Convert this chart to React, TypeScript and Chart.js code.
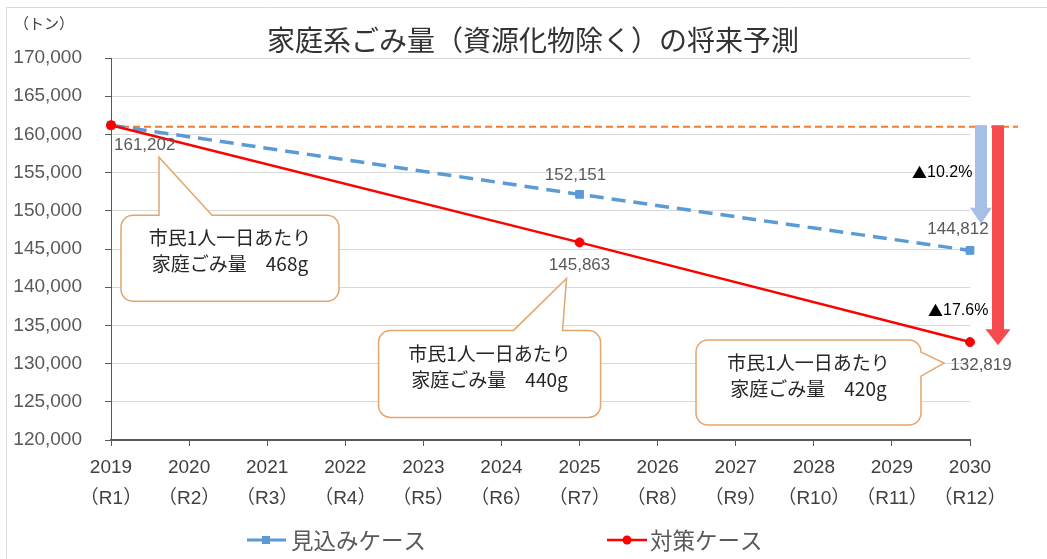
import React, { useEffect, useRef } from "react";
import { Chart, registerables } from "chart.js";

Chart.register(...registerables);

// ---------- data ----------
const years = ["2019", "2020", "2021", "2022", "2023", "2024", "2025", "2026", "2027", "2028", "2029", "2030"];
const reiwaLabels = ["（R1）", "（R2）", "（R3）", "（R4）", "（R5）", "（R6）", "（R7）", "（R8）", "（R9）", "（R10）", "（R11）", "（R12）"];
const forecastCase: (number | null)[] = [161202, null, null, null, null, null, 152151, null, null, null, null, 144812];
const measureCase: (number | null)[] = [161202, null, null, null, null, null, 145863, null, null, null, null, 132819];
const seriesNames = ["見込みケース", "対策ケース"];
const baselineValue = 161202;
const reductionLabels = ["10.2%", "17.6%"];
const reductionLabelValues = [155000, 137000];
const arrowTipValues = [148300, 132400];
const calloutTexts = [
  ["市民1人一日あたり", "家庭ごみ量　468g"],
  ["市民1人一日あたり", "家庭ごみ量　440g"],
  ["市民1人一日あたり", "家庭ごみ量　420g"],
];
const titleText = "家庭系ごみ量（資源化物除く）の将来予測";
const unitText = "（トン）";
const yMin = 120000;
const yMax = 170000;
const yStep = 5000;

// ---------- styles ----------
const CJK = "'Noto Sans CJK JP', sans-serif";
const NUM = "'Liberation Sans', 'Noto Sans CJK JP', sans-serif";
const BLUE = "#5B9BD5";
const RED = "#FF0000";
const ORANGE = "#ED7D31";
const CALLOUT_BORDER = "#E4A56C";

type LabelSpec = { ds: number; idx: number; dx: number; dy: number; align: CanvasTextAlign };
const labelSpecs: LabelSpec[] = [
  { ds: 1, idx: 0, dx: 3, dy: 20, align: "left" },
  { ds: 0, idx: 6, dx: -4, dy: -19, align: "center" },
  { ds: 0, idx: 11, dx: -12, dy: -21, align: "center" },
  { ds: 1, idx: 6, dx: 0, dy: 23, align: "center" },
  { ds: 1, idx: 11, dx: 11, dy: 23, align: "center" },
];

type CalloutSpec = {
  ds: number; idx: number;
  bx: number; by: number; w: number; h: number;
  side: "top" | "right"; a: number; b: number; tx: number; ty: number;
};
const calloutSpecs: CalloutSpec[] = [
  { ds: 1, idx: 0, bx: 10, by: 90, w: 218, h: 86, side: "top", a: 48, b: 101, tx: 48, ty: 32 },
  { ds: 1, idx: 6, bx: -201, by: 88, w: 222, h: 87, side: "top", a: -66, b: -17, tx: -13, ty: 36 },
  { ds: 1, idx: 11, bx: -274, by: -2, w: 225, h: 85, side: "right", a: 10, b: 34, tx: -26, ty: 21 },
];

function fmt(v: number) {
  return v.toLocaleString("en-US");
}

function drawCallout(ctx: CanvasRenderingContext2D, px: number, py: number, s: CalloutSpec, lines: string[]) {
  const x = px + s.bx, y = py + s.by, w = s.w, h = s.h, r = 12;
  ctx.save();
  ctx.beginPath();
  ctx.moveTo(x + r, y);
  if (s.side === "top") {
    ctx.lineTo(px + s.a, y);
    ctx.lineTo(px + s.tx, py + s.ty);
    ctx.lineTo(px + s.b, y);
  }
  ctx.lineTo(x + w - r, y);
  ctx.arcTo(x + w, y, x + w, y + r, r);
  if (s.side === "right") {
    ctx.lineTo(x + w, py + s.a);
    ctx.lineTo(px + s.tx, py + s.ty);
    ctx.lineTo(x + w, py + s.b);
  }
  ctx.lineTo(x + w, y + h - r);
  ctx.arcTo(x + w, y + h, x + w - r, y + h, r);
  ctx.lineTo(x + r, y + h);
  ctx.arcTo(x, y + h, x, y + h - r, r);
  ctx.lineTo(x, y + r);
  ctx.arcTo(x, y, x + r, y, r);
  ctx.closePath();
  ctx.fillStyle = "#ffffff";
  ctx.fill();
  ctx.strokeStyle = CALLOUT_BORDER;
  ctx.lineWidth = 1.5;
  ctx.stroke();
  ctx.fillStyle = "#262626";
  ctx.font = `19px ${CJK}`;
  ctx.textAlign = "center";
  ctx.textBaseline = "middle";
  ctx.fillText(lines[0], x + w / 2, y + 23);
  ctx.fillText(lines[1], x + w / 2, y + 49);
  ctx.restore();
}

function drawArrow(ctx: CanvasRenderingContext2D, cx: number, top: number, tip: number, color: string, shaft: number, head: number, headLen: number) {
  ctx.save();
  ctx.fillStyle = color;
  ctx.beginPath();
  ctx.moveTo(cx - shaft / 2, top);
  ctx.lineTo(cx + shaft / 2, top);
  ctx.lineTo(cx + shaft / 2, tip - headLen);
  ctx.lineTo(cx + head / 2, tip - headLen);
  ctx.lineTo(cx, tip);
  ctx.lineTo(cx - head / 2, tip - headLen);
  ctx.lineTo(cx - shaft / 2, tip - headLen);
  ctx.closePath();
  ctx.fill();
  ctx.restore();
}

function drawReduction(ctx: CanvasRenderingContext2D, text: string, x: number, y: number) {
  ctx.save();
  ctx.fillStyle = "#000000";
  ctx.textAlign = "left";
  ctx.textBaseline = "middle";
  ctx.font = `15px ${CJK}`;
  ctx.fillText("▲", x, y);
  const w = ctx.measureText("▲").width;
  ctx.font = `16px ${NUM}`;
  ctx.fillText(text, x + w, y);
  ctx.restore();
}

const decorPlugin = {
  id: "decor",
  beforeDatasetsDraw(chart: any) {
    const ctx: CanvasRenderingContext2D = chart.ctx;
    const y = chart.scales.y.getPixelForValue(baselineValue) + 1.5;
    ctx.save();
    ctx.strokeStyle = ORANGE;
    ctx.lineWidth = 2;
    ctx.setLineDash([7, 4]);
    ctx.beginPath();
    ctx.moveTo(chart.chartArea.left, y);
    ctx.lineTo(chart.chartArea.right + 48, y);
    ctx.stroke();
    ctx.restore();
  },
  afterDraw(chart: any) {
    const ctx: CanvasRenderingContext2D = chart.ctx;
    const area = chart.chartArea;
    const ys = chart.scales.y;

    // outer border (left/top)
    ctx.save();
    ctx.strokeStyle = "#d9d9d9";
    ctx.lineWidth = 1;
    ctx.beginPath();
    ctx.moveTo(6.5, 600);
    ctx.lineTo(6.5, 7.5);
    ctx.lineTo(1100, 7.5);
    ctx.stroke();
    ctx.restore();

    // title and unit
    ctx.save();
    ctx.fillStyle = "#333333";
    ctx.font = `28px ${CJK}`;
    ctx.textAlign = "center";
    ctx.textBaseline = "middle";
    ctx.fillText(titleText, 533, 40);
    ctx.font = `15px ${CJK}`;
    ctx.fillStyle = "#404040";
    ctx.textAlign = "left";
    ctx.fillText(unitText, 14, 23);
    ctx.restore();

    // arrows
    const top = ys.getPixelForValue(baselineValue);
    drawArrow(ctx, area.right + 11, top, ys.getPixelForValue(arrowTipValues[0]), "#A6BFE5", 12, 22, 16);
    drawArrow(ctx, area.right + 28, top, ys.getPixelForValue(arrowTipValues[1]), "#F74A4F", 12, 25, 16);

    // reduction labels
    drawReduction(ctx, reductionLabels[0], area.right - 58, ys.getPixelForValue(reductionLabelValues[0]));
    drawReduction(ctx, reductionLabels[1], area.right - 42, ys.getPixelForValue(reductionLabelValues[1]));

    // callouts
    calloutSpecs.forEach((s, i) => {
      const pt = chart.getDatasetMeta(s.ds).data[s.idx];
      drawCallout(ctx, pt.x, pt.y, s, calloutTexts[i]);
    });

    // data labels
    ctx.save();
    ctx.fillStyle = "#595959";
    ctx.font = `17px ${NUM}`;
    ctx.textBaseline = "middle";
    labelSpecs.forEach((l) => {
      const pt = chart.getDatasetMeta(l.ds).data[l.idx];
      const v = chart.data.datasets[l.ds].data[l.idx] as number;
      ctx.textAlign = l.align;
      ctx.fillText(fmt(v), pt.x + l.dx, pt.y + l.dy);
    });
    ctx.restore();

    // legend
    ctx.save();
    const ly = 540;
    ctx.lineWidth = 3;
    ctx.strokeStyle = BLUE;
    ctx.beginPath();
    ctx.moveTo(247, ly);
    ctx.lineTo(286, ly);
    ctx.stroke();
    ctx.fillStyle = BLUE;
    ctx.fillRect(262, ly - 4, 8, 8);
    ctx.strokeStyle = RED;
    ctx.lineWidth = 2.5;
    ctx.beginPath();
    ctx.moveTo(607, ly);
    ctx.lineTo(647, ly);
    ctx.stroke();
    ctx.fillStyle = RED;
    ctx.beginPath();
    ctx.arc(627, ly, 4.5, 0, Math.PI * 2);
    ctx.fill();
    ctx.fillStyle = "#595959";
    ctx.font = `22.5px ${CJK}`;
    ctx.textAlign = "left";
    ctx.textBaseline = "middle";
    ctx.fillText(seriesNames[0], 291, ly);
    ctx.fillText(seriesNames[1], 650, ly);
    ctx.restore();
  },
};

export default function App() {
  const ref = useRef<HTMLCanvasElement | null>(null);
  useEffect(() => {
    if (!ref.current) return;
    const chart = new Chart(ref.current, {
      type: "line",
      data: {
        labels: years,
        datasets: [
          {
            label: seriesNames[0],
            data: forecastCase,
            borderColor: BLUE,
            backgroundColor: BLUE,
            borderWidth: 3.5,
            borderDash: [14, 8],
            pointStyle: "rect",
            pointRadius: 5.5,
            pointBorderWidth: 1,
            spanGaps: true,
            order: 2,
          },
          {
            label: seriesNames[1],
            data: measureCase,
            borderColor: RED,
            backgroundColor: RED,
            borderWidth: 2.5,
            pointStyle: "circle",
            pointRadius: 4.5,
            pointBorderWidth: 1,
            spanGaps: true,
            order: 1,
          },
        ],
      },
      options: {
        responsive: false,
        animation: false,
        layout: { padding: { top: 58, right: 77, bottom: 0, left: 0 } },
        plugins: {
          legend: { display: false },
          title: { display: false },
          tooltip: { enabled: false },
        },
        scales: {
          x: {
            type: "category",
            offset: false,
            grid: { drawOnChartArea: false, drawTicks: true, tickLength: 6, tickColor: "#595959", tickWidth: 1 },
            border: { color: "#595959", width: 2 },
            ticks: {
              color: "#404040",
              font: { size: 19, family: NUM, lineHeight: 1.6 },
              padding: 7,
              maxRotation: 0,
              autoSkip: false,
              callback: (_v: any, i: number) => [years[i], reiwaLabels[i]],
            },
            afterFit: (s: any) => {
              s.height = 119;
            },
          },
          y: {
            min: yMin,
            max: yMax,
            ticks: {
              stepSize: yStep,
              color: "#595959",
              font: { size: 19, family: NUM },
              padding: 23,
              callback: (v: any) => fmt(Number(v)),
            },
            grid: { color: "#d9d9d9", tickColor: "#595959", tickLength: 6, lineWidth: 1 },
            border: { color: "#595959", width: 1 },
            afterFit: (s: any) => {
              s.width = 111;
            },
          },
        },
      },
      plugins: [decorPlugin],
    });
    return () => chart.destroy();
  }, []);
  return (
    <div style={{ position: "fixed", left: 0, top: 0, width: 1047, height: 559, background: "#fff" }}>
      <canvas ref={ref} width={1047} height={559} style={{ display: "block" }} />
    </div>
  );
}
